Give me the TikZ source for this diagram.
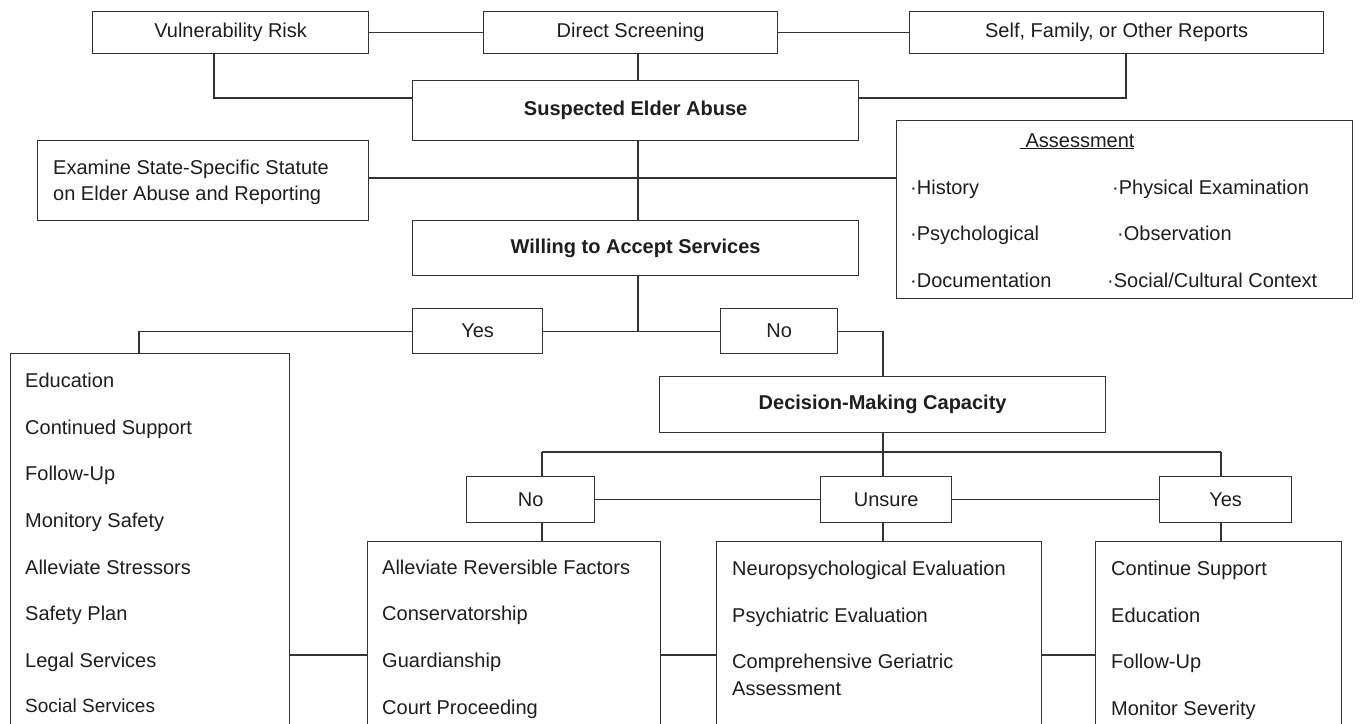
\documentclass[tikz,border=0pt]{standalone}
\usepackage{fontspec}
\setmainfont{Liberation Sans}
\newcommand\fz{\fontsize{20}{24}\selectfont}
\definecolor{ln}{HTML}{333333}
\definecolor{tx}{HTML}{1E1E1E}
\begin{document}
\begin{tikzpicture}[x=1pt,y=-1pt,
  box/.style={draw=ln, line width=1.3pt, inner sep=0pt, anchor=north west, align=center, font=\fz, text=tx},
  bbox/.style={box, font=\fz\bfseries},
  item/.style={anchor=base west, inner sep=0pt, font=\fz, text=tx},
  conn/.style={draw=ln, line width=1.3pt}]
\useasboundingbox (0,0) rectangle (1360,723);
\clip (0,0) rectangle (1360,723);
\fill[white] (0,0) rectangle (1360,723);
% top row
\node[box, minimum width=276pt, minimum height=42pt] (vr) at (92,11) {Vulnerability Risk};
\node[box, minimum width=294pt, minimum height=42pt] (ds) at (483,11) {Direct Screening};
\node[box, minimum width=414pt, minimum height=42pt] (sf) at (909,11) {Self, Family, or Other Reports};
% main spine
\node[bbox, minimum width=446pt, minimum height=60pt] (sea) at (412,80) {Suspected Elder Abuse};
\node[box, minimum width=331pt, minimum height=80pt] (ex) at (37,140) {};
\node[item] (ex1) at (53,174) {Examine State-Specific Statute};
\node[item] (ex2) at (53,200) {on Elder Abuse and Reporting};
\node[box, minimum width=456pt, minimum height=178pt] (as) at (896,120) {};
\node[anchor=base, inner sep=0pt, font=\fz, text=tx] (ast) at (1077,147) {\underline{\hspace{6pt}Assessment}};
\node[item] (a1) at (910,194) {·History};
\node[item] (a2) at (1112,194) {·Physical Examination};
\node[item] (a3) at (910,240) {·Psychological};
\node[item] (a4) at (1117,240) {·Observation};
\node[item] (a5) at (910,287) {·Documentation};
\node[item] (a6) at (1107,287) {·Social/Cultural Context};
\node[bbox, minimum width=446pt, minimum height=55pt] (wil) at (412,220) {Willing to Accept Services};
\node[box, minimum width=130pt, minimum height=45pt] (yes) at (412,308) {Yes};
\node[box, minimum width=117pt, minimum height=45pt] (no) at (720,308) {No};
% left list
\node[box, minimum width=279pt, minimum height=380pt] (lft) at (10,353) {};
\node[item] (l1) at (25,387) {Education};
\node[item] (l2) at (25,434) {Continued Support};
\node[item] (l3) at (25,480) {Follow-Up};
\node[item] (l4) at (25,527) {Monitory Safety};
\node[item] (l5) at (25,574) {Alleviate Stressors};
\node[item] (l6) at (25,620) {Safety Plan};
\node[item] (l7) at (25,667) {Legal Services};
\node[item, font=\fontsize{19}{23}\selectfont] (l8) at (25,712) {Social Services};
% decision
\node[bbox, minimum width=446pt, minimum height=56pt] (dmc) at (659,376) {Decision-Making Capacity};
\node[box, minimum width=128pt, minimum height=46pt] (no2) at (466,476) {No};
\node[box, minimum width=131pt, minimum height=46pt] (uns) at (820,476) {Unsure};
\node[box, minimum width=132pt, minimum height=46pt] (yes2) at (1159,476) {Yes};
% bottom boxes
\node[box, minimum width=293pt, minimum height=192pt] (rev) at (367,541) {};
\node[item] (r1) at (382,574) {Alleviate Reversible Factors};
\node[item] (r2) at (382,620) {Conservatorship};
\node[item] (r3) at (382,667) {Guardianship};
\node[item] (r4) at (382,714) {Court Proceeding};
\node[box, minimum width=325pt, minimum height=192pt] (neu) at (716,541) {};
\node[item] (n1) at (732,575) {Neuropsychological Evaluation};
\node[item] (n2) at (732,622) {Psychiatric Evaluation};
\node[item] (n3) at (732,668) {Comprehensive Geriatric};
\node[item] (n4) at (732,695) {Assessment};
\node[box, minimum width=246pt, minimum height=192pt] (con) at (1095,541) {};
\node[item] (c1) at (1111,575) {Continue Support};
\node[item] (c2) at (1111,622) {Education};
\node[item] (c3) at (1111,668) {Follow-Up};
\node[item] (c4) at (1111,715) {Monitor Severity};
% helper coordinates
\coordinate (spine) at (638,0);
\coordinate (vrx) at (214,0);
\coordinate (sfx) at (1126,0);
\coordinate (topbar) at (0,98);
\coordinate (lftx) at (139,0);
\coordinate (dmx) at (883,0);
\coordinate (bar) at (0,452);
\coordinate (no2x) at (542,0);
\coordinate (yes2x) at (1221,0);
\coordinate (low) at (0,655);
\coordinate (exy) at (0,178);
% connectors
\draw[conn] (vr.east) -- (ds.west);
\draw[conn] (ds.east) -- (sf.west);
\draw[conn] (ds.south -| spine) -- (sea.north -| spine);
\draw[conn] (vr.south -| vrx) -- (vrx |- topbar) -- (sea.west |- topbar);
\draw[conn] (sf.south -| sfx) -- (sfx |- topbar) -- (sea.east |- topbar);
\draw[conn] (ex.east |- exy) -- (as.west |- exy);
\draw[conn] (sea.south -| spine) -- (wil.north -| spine);
\draw[conn] (wil.south -| spine) -- (yes.east -| spine);
\draw[conn] (yes.east) -- (no.west);
\draw[conn] (yes.west) -| (lftx |- lft.north);
\draw[conn] (no.east) -| (dmx |- dmc.north);
\draw[conn] (dmc.south -| dmx) -- (uns.north -| dmx);
\draw[conn] (no2x |- bar) -- (yes2x |- bar);
\draw[conn] (no2x |- bar) -- (no2x |- no2.north);
\draw[conn] (yes2x |- bar) -- (yes2x |- yes2.north);
\draw[conn] (no2.east) -- (uns.west);
\draw[conn] (uns.east) -- (yes2.west);
\draw[conn] (no2.south -| no2x) -- (rev.north -| no2x);
\draw[conn] (uns.south -| dmx) -- (neu.north -| dmx);
\draw[conn] (yes2.south -| yes2x) -- (con.north -| yes2x);
\draw[conn] (lft.east |- low) -- (rev.west |- low);
\draw[conn] (rev.east |- low) -- (neu.west |- low);
\draw[conn] (neu.east |- low) -- (con.west |- low);
\end{tikzpicture}
\end{document}
